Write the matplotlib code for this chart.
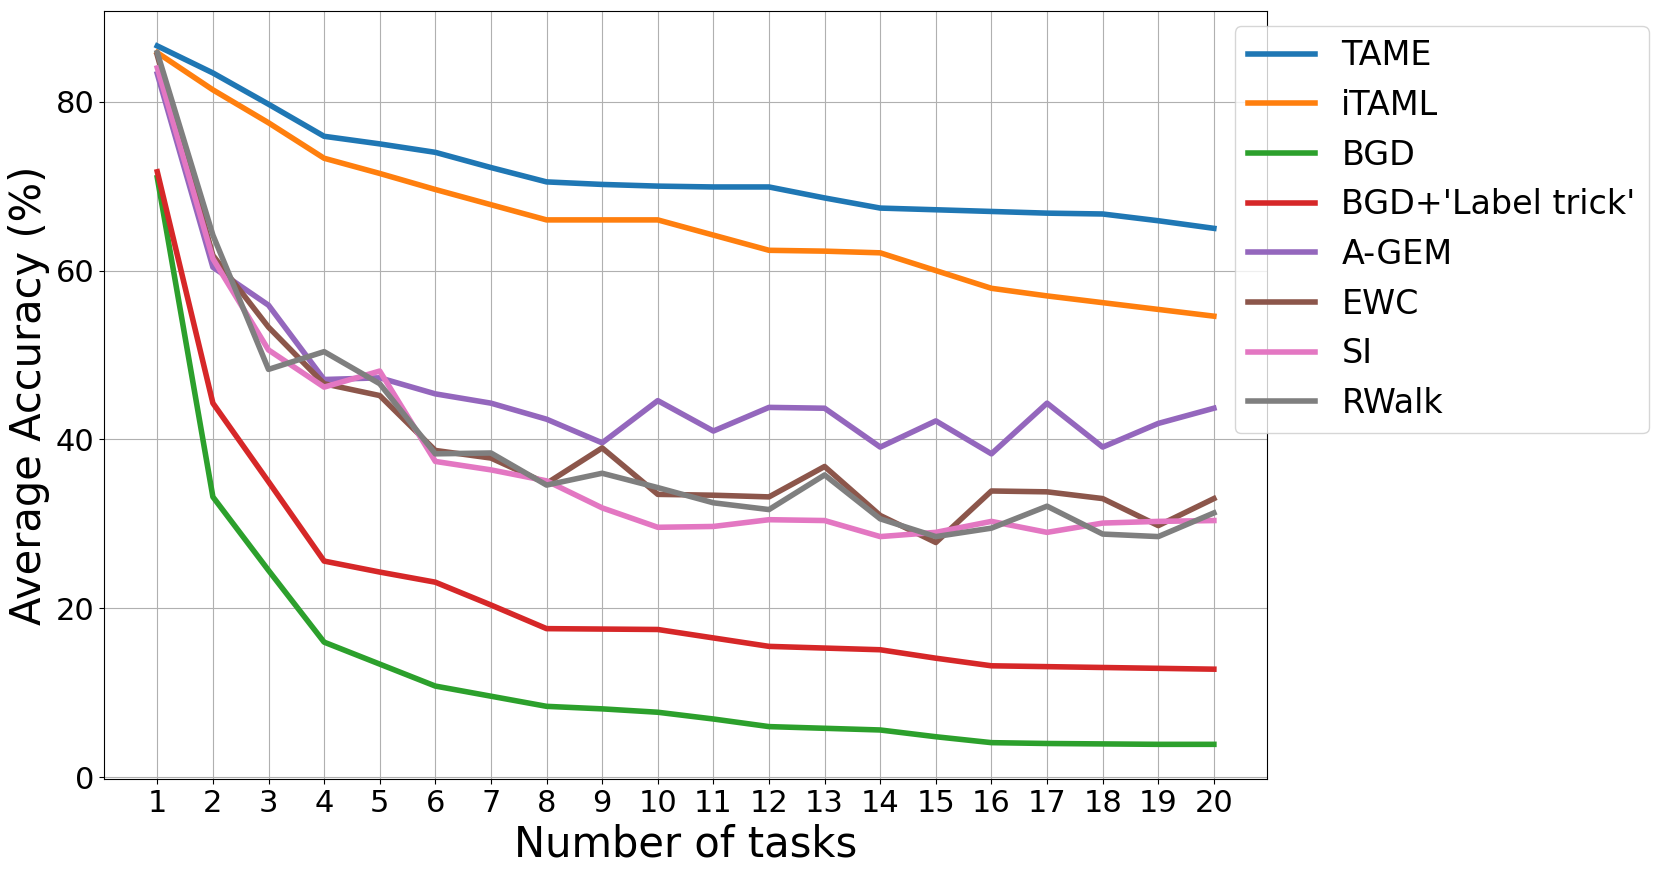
import numpy as np
import matplotlib.pyplot as plt

# x axis: number of tasks
tasks = np.arange(1, 21)

tame = [86.6, 83.4, 79.7, 75.9, 75.0, 74.0, 72.2, 70.5, 70.2, 70.0,
        69.9, 69.9, 68.6, 67.4, 67.2, 67.0, 66.8, 66.7, 65.9, 65.0]
itaml = [85.8, 81.4, 77.5, 73.3, 71.5, 69.6, 67.8, 66.0, 66.0, 66.0,
         64.2, 62.4, 62.3, 62.1, 60.0, 57.9, 57.0, 56.2, 55.4, 54.6]
bgd = [71.0, 33.2, 24.5, 16.0, 13.4, 10.8, 9.6, 8.4, 8.1, 7.7,
       6.9, 6.0, 5.8, 5.6, 4.8, 4.1, 4.0, 3.95, 3.9, 3.9]
bgd_label = [71.7, 44.3, 35.0, 25.6, 24.3, 23.1, 20.4, 17.6, 17.55, 17.5,
             16.5, 15.5, 15.3, 15.1, 14.1, 13.2, 13.1, 13.0, 12.9, 12.8]
agem = [83.3, 60.4, 55.9, 47.1, 47.3, 45.4, 44.3, 42.4, 39.6, 44.6,
        41.0, 43.8, 43.7, 39.1, 42.2, 38.3, 44.3, 39.1, 41.9, 43.7]
ewc = [85.5, 61.8, 53.3, 46.6, 45.2, 38.7, 37.8, 34.8, 39.0, 33.5,
       33.4, 33.2, 36.8, 31.0, 27.8, 33.9, 33.8, 33.0, 29.8, 33.0]
si = [84.0, 61.4, 50.6, 46.2, 48.1, 37.4, 36.4, 35.1, 31.9, 29.6,
      29.7, 30.5, 30.4, 28.5, 29.0, 30.3, 29.0, 30.1, 30.3, 30.4]
rwalk = [85.8, 64.2, 48.3, 50.4, 46.6, 38.3, 38.4, 34.6, 36.0, 34.3,
         32.5, 31.7, 35.8, 30.6, 28.5, 29.5, 32.1, 28.8, 28.5, 31.3]

labels = ["TAME", "iTAML", "BGD", "BGD+'Label trick'", "A-GEM", "EWC", "SI", "RWalk"]
series = [tame, itaml, bgd, bgd_label, agem, ewc, si, rwalk]

fig = plt.figure(figsize=(16.58, 8.74), dpi=100)
ax = fig.add_axes([0.063, 0.1084, 0.701, 0.879])

for y, name in zip(series, labels):
    ax.plot(tasks, y, linewidth=4, label=name)

ax.set_xticks(tasks)
ax.tick_params(axis='both', labelsize=22)
ax.set_xlabel("Number of tasks", fontsize=30)
ax.set_ylabel("Average Accuracy (%)", fontsize=30)
ax.grid(True)

fig.legend(loc='upper left', bbox_to_anchor=(1234.7 / 1658, 1 - 26 / 874),
           borderaxespad=0, fontsize=24)

fig.savefig("out.png", dpi=100)
